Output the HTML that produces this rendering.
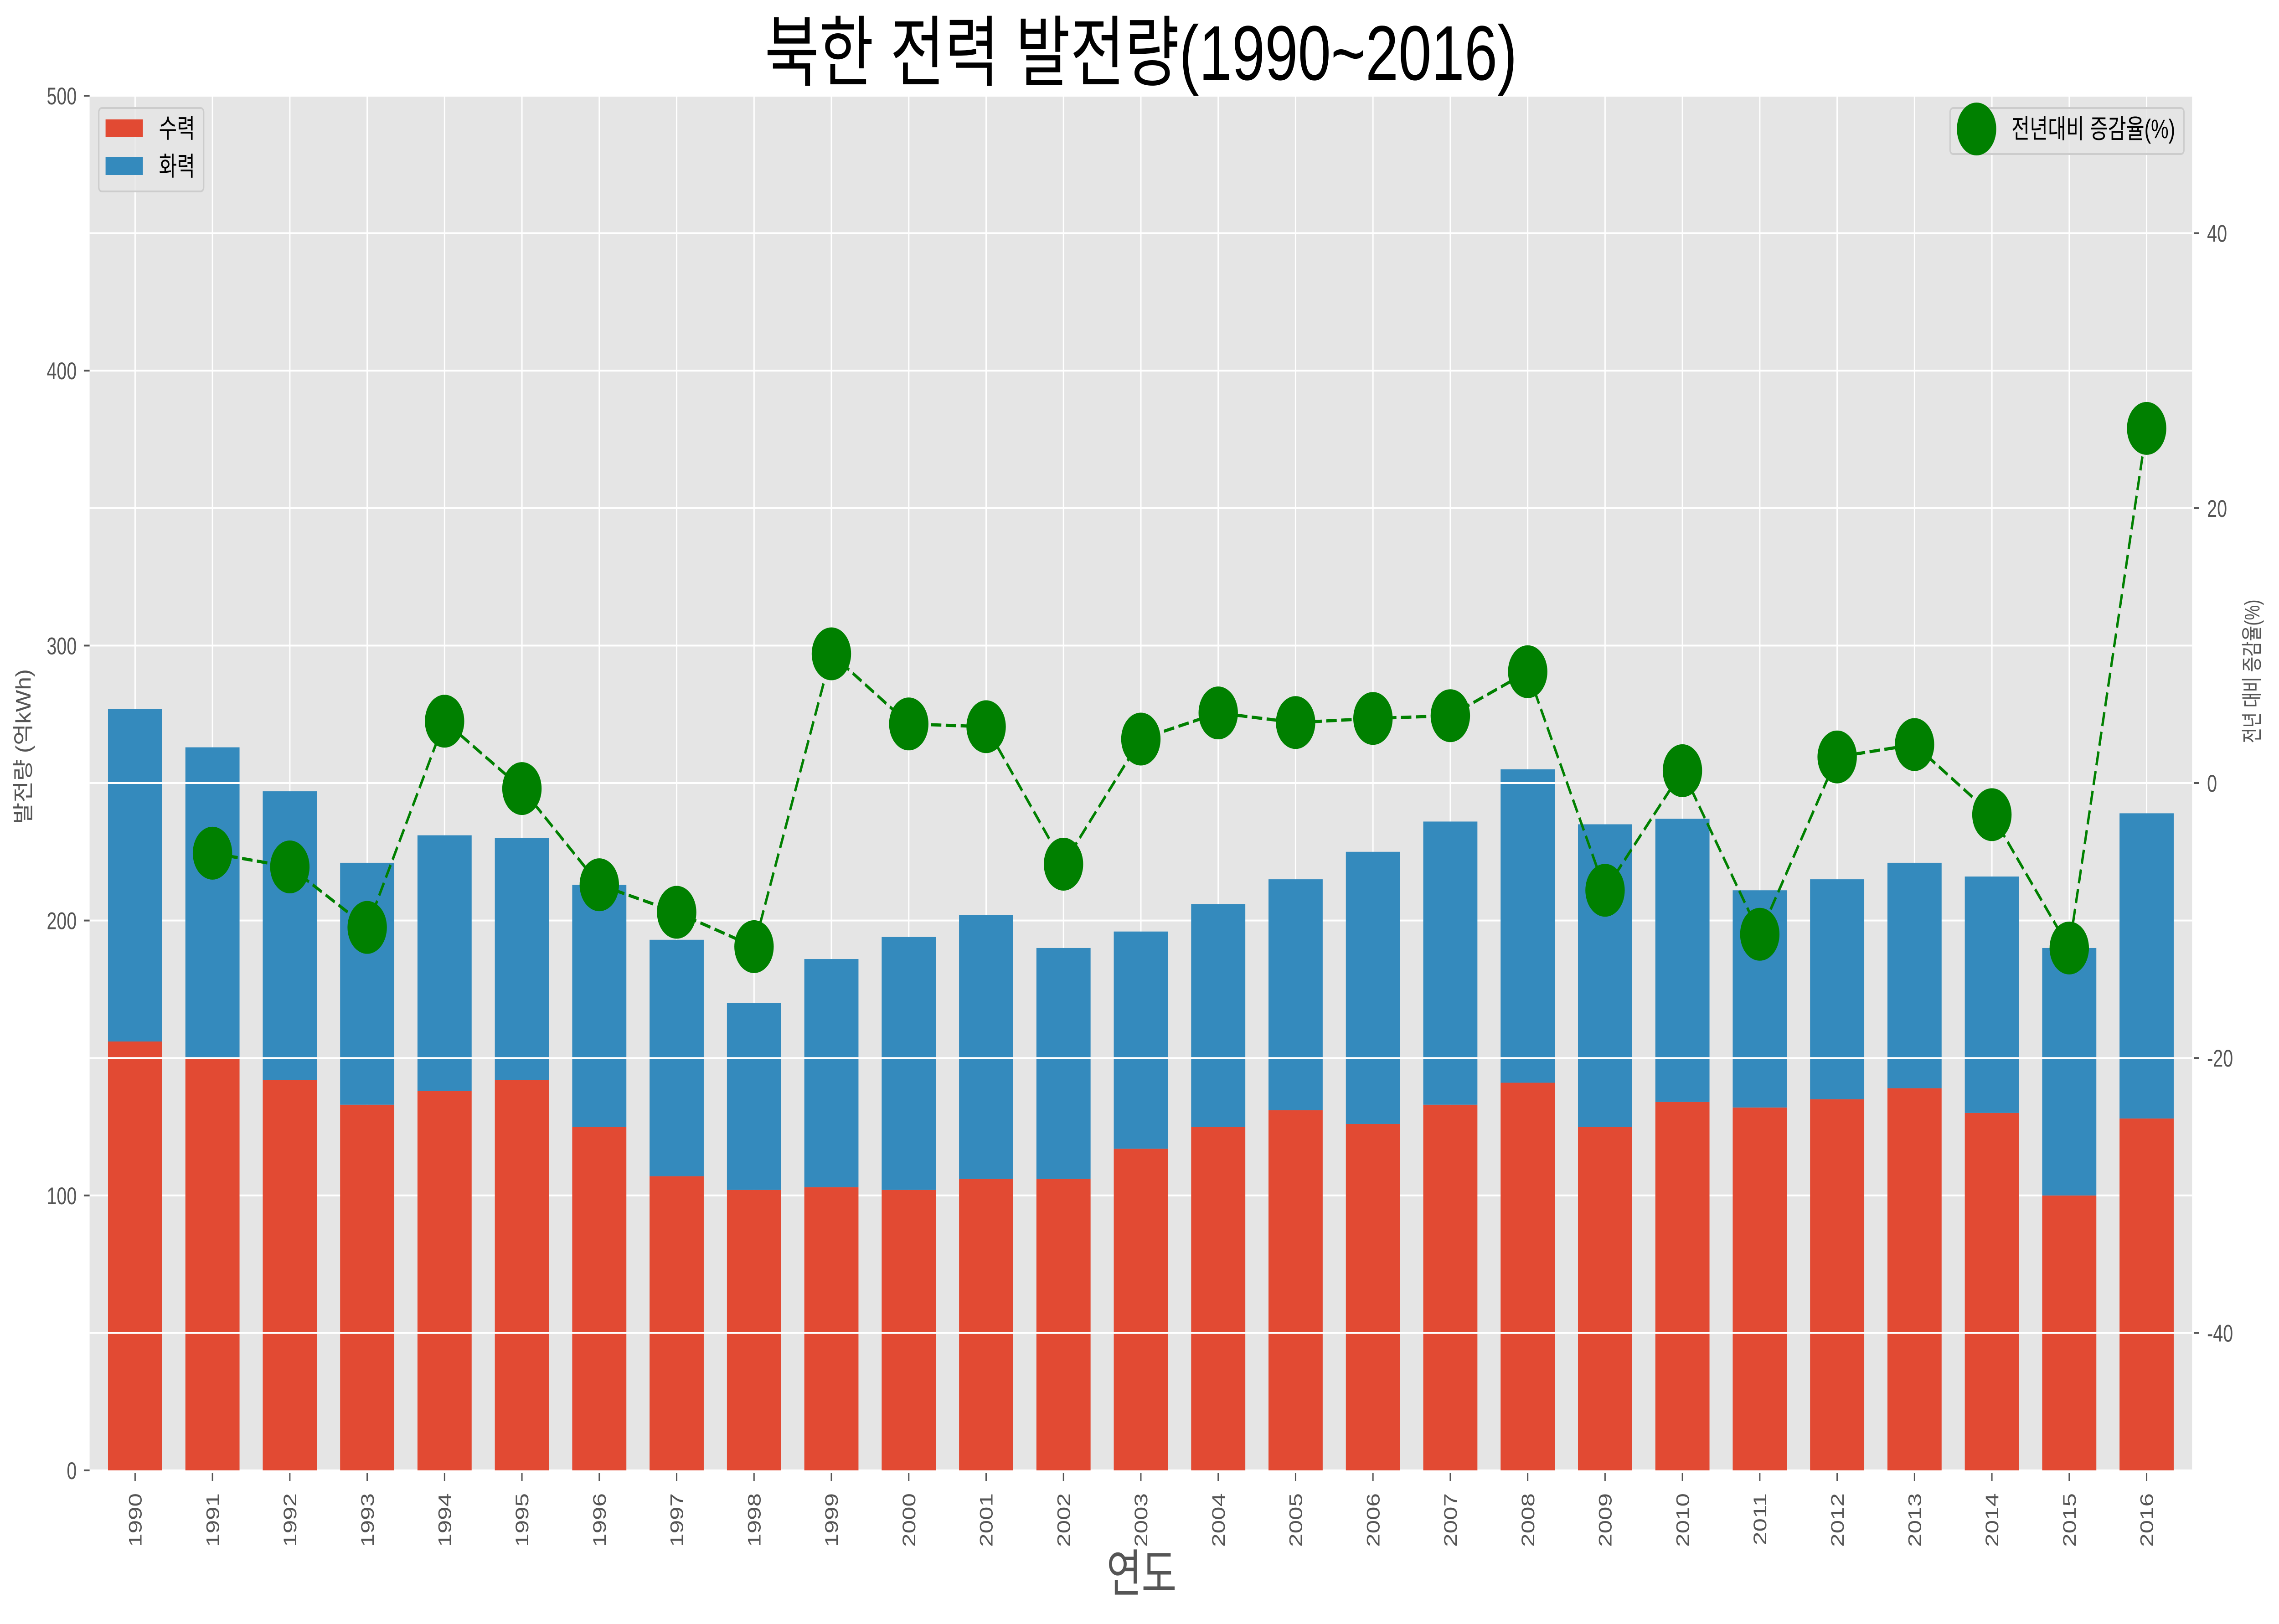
<!DOCTYPE html>
<html><head><meta charset="utf-8"><style>
html,body{margin:0;padding:0;background:#fff;width:100vw;height:100vh;overflow:hidden;}
svg{display:block;width:100vw;height:100vh;font-family:"Liberation Sans","Noto Sans CJK KR",sans-serif;}
</style></head><body>
<svg id="chart" xmlns="http://www.w3.org/2000/svg" viewBox="0 0 6714 3563" preserveAspectRatio="none">
<rect x="0" y="0" width="6714" height="3563" fill="#ffffff"/>
<rect x="264" y="210" width="6194" height="3016" fill="#e5e5e5"/>
<g id="gridUnder"></g>
<g id="bars"></g>
<g id="gridOver"></g>
<g id="line"></g>
<g id="axes"></g>
<text x="3361" y="175" text-anchor="middle" font-size="170" fill="#000" textLength="2217" lengthAdjust="spacingAndGlyphs">북한 전력 발전량(1990~2016)</text>
<text x="3363" y="3492" text-anchor="middle" font-size="112" fill="#555">연도</text>
<text transform="translate(90,1638) rotate(-90)" text-anchor="middle" font-size="62" fill="#555" textLength="340" lengthAdjust="spacingAndGlyphs">발전량 (억kWh)</text>
<text transform="translate(6656,1473) rotate(-90)" text-anchor="middle" font-size="62" fill="#555" textLength="315" lengthAdjust="spacingAndGlyphs">전년 대비 증감율(%)</text>
<g>
<rect x="291" y="237" width="309" height="183" rx="9" fill="#e5e5e5" fill-opacity="0.8" stroke="#cccccc" stroke-width="4"/>
<rect x="311" y="262" width="110" height="39" fill="#E24A33"/>
<text x="468" y="302" font-size="58" fill="#000">수력</text>
<rect x="311" y="345" width="110" height="39" fill="#348ABD"/>
<text x="468" y="385" font-size="58" fill="#000">화력</text>
</g>
<g>
<rect x="5745" y="237" width="689" height="101" rx="9" fill="#e5e5e5" fill-opacity="0.8" stroke="#cccccc" stroke-width="4"/>
<circle cx="5823" cy="283" r="58" fill="#008000"/>
<text x="5926" y="303" font-size="58" fill="#000" textLength="482" lengthAdjust="spacingAndGlyphs">전년대비 증감율(%)</text>
</g>
</svg>
<script>
const years = [1990,1991,1992,1993,1994,1995,1996,1997,1998,1999,2000,2001,2002,2003,2004,2005,2006,2007,2008,2009,2010,2011,2012,2013,2014,2015,2016];
const hydro = [156,150,142,133,138,142,125,107,102,103,102,106,106,117,125,131,126,133,141,125,134,132,135,139,130,100,128];
const totals = [277,263,247,221,231,230,213,193,170,186,194,202,190,196,206,215,225,236,255,235,237,211,215,221,216,190,239];
const growth = [null,-5.1,-6.1,-10.5,4.5,-0.4,-7.4,-9.4,-11.9,9.4,4.3,4.1,-5.9,3.2,5.1,4.4,4.7,4.9,8.1,-7.8,0.9,-11.0,1.9,2.8,-2.3,-12.0,25.8];
const leftTicks = [0,100,200,300,400,500];
const rightTicks = [-40,-20,0,20,40];

const NS = "http://www.w3.org/2000/svg";
const L=264, R=6458, T=210, B=3226;
const step=(6324-398)/26;
function xPos(i){return 398+step*i;}
function yL(v){return B-(v-0)/(500-0)*(B-T);}
function yR(v){return B-(v+50)/100*(B-T);}
function mk(tag,attrs,parent){const e=document.createElementNS(NS,tag);for(const k in attrs)e.setAttribute(k,attrs[k]);parent.appendChild(e);return e;}
const gU=document.getElementById('gridUnder'), gB=document.getElementById('bars'), gO=document.getElementById('gridOver'), gL=document.getElementById('line'), gA=document.getElementById('axes');

leftTicks.forEach(v=>{
  const ln=mk('line',{x1:L,x2:R,y1:yL(v),y2:yL(v),stroke:'#fff','stroke-width':4},gU);
  
  
  const tk=mk('line',{x1:L-17,x2:L,y1:yL(v),y2:yL(v),stroke:'#555','stroke-width':4},gA);
  
  
  const t=mk('text',{x:L-38,y:yL(v)+19,'text-anchor':'end','font-size':53,fill:'#555'},gA);
  t.textContent=v;
  
  
});
years.forEach((y,i)=>{
  const cx=xPos(i);
  const ln=mk('line',{x1:cx,x2:cx,y1:T,y2:B,stroke:'#fff','stroke-width':4},gU);
  
  
  const w=step*0.7;
  const r1=mk('rect',{x:cx-w/2,y:yL(hydro[i]),width:w,height:yL(0)-yL(hydro[i]),fill:'#E24A33'},gB);
  
  
  const r2=mk('rect',{x:cx-w/2,y:yL(totals[i]),width:w,height:yL(hydro[i])-yL(totals[i]),fill:'#348ABD'},gB);
  
  
  const tk=mk('line',{x1:cx,x2:cx,y1:B+6,y2:B+23,stroke:'#555','stroke-width':4},gA);
  
  
  const t=mk('text',{transform:'translate('+(cx+19)+',3276) rotate(-90)','text-anchor':'end','font-size':53,fill:'#555'},gA);
  t.textContent=y;
  
  
});
rightTicks.forEach(v=>{
  const ln=mk('line',{x1:L,x2:R,y1:yR(v),y2:yR(v),stroke:'#fff','stroke-width':4},gO);
  
  
  const tk=mk('line',{x1:R+5,x2:R+21,y1:yR(v),y2:yR(v),stroke:'#555','stroke-width':4},gA);
  
  
  const t=mk('text',{x:6502,y:yR(v)+19,'font-size':53,fill:'#555'},gA);
  t.textContent=v;
  
  
});
let pts=[];
growth.forEach((g,i)=>{ if(g!==null) pts.push(xPos(i)+','+yR(g)); });
const pl=mk('polyline',{points:pts.join(' '),fill:'none',stroke:'#008000','stroke-width':7,'stroke-dasharray':'31 13'},gL);


growth.forEach((g,i)=>{
  if(g===null) return;
  const c=mk('circle',{cx:xPos(i),cy:yR(g),r:58,fill:'#008000'},gL);
  
  
});
</script>
</body></html>
